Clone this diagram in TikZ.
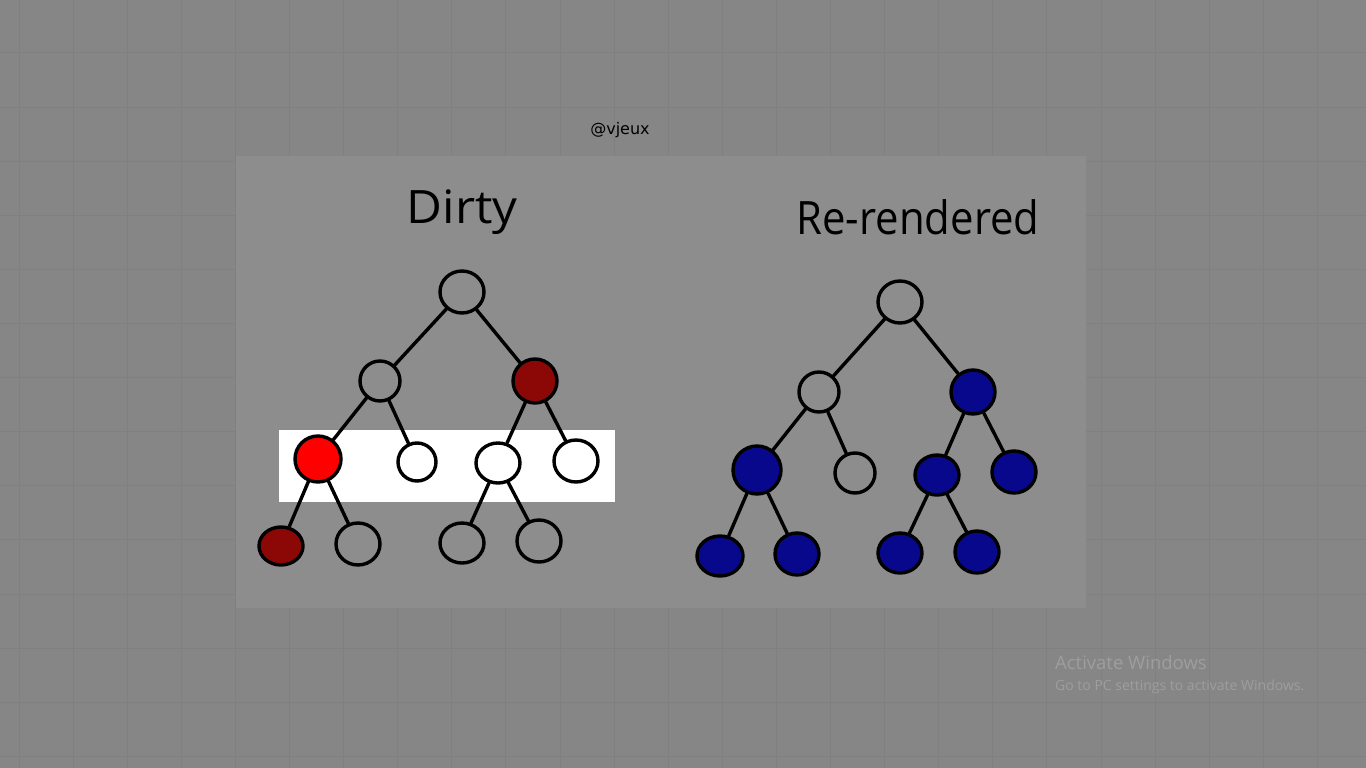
\documentclass[tikz,border=0pt]{standalone}
\usepackage{fontspec}
\setmainfont{Open Sans}
\newfontfamily\dvfont{DejaVu Sans}
\usetikzlibrary{shapes.geometric}
\definecolor{bgc}{RGB}{134,134,134}
\definecolor{gridc}{RGB}{128,128,128}
\definecolor{panelc}{RGB}{141,141,141}
\definecolor{dred}{RGB}{140,8,6}
\definecolor{bred}{RGB}{255,0,0}
\definecolor{navy}{RGB}{8,8,140}
\definecolor{wmc}{RGB}{158,158,158}
\tikzset{
  tn/.style={ellipse,draw=black,line width=3.4pt,inner sep=0pt,minimum width=42pt,minimum height=40pt},
  gn/.style={tn},
  wn/.style={tn,fill=white},
  rn/.style={tn,fill=bred},
  dn/.style={tn,fill=dred},
  bn/.style={tn,fill=navy},
  edge/.style={line width=3.4pt,line cap=round},
  title/.style={font=\fontsize{46}{50}\selectfont,inner sep=0pt,text=black},
  wm/.style={text=wmc,anchor=base west,inner sep=0pt}
}
\begin{document}
\begin{tikzpicture}[x=1pt,y=-1pt]
\useasboundingbox (0,0) rectangle (1366,768);
\fill[bgc] (0,0) rectangle (1366,768);
\foreach \i in {0,...,25}{
  \draw[gridc,line width=1pt] ({19+54.1*\i},0) -- ({19+54.1*\i},768);
}
\foreach \j in {0,...,14}{
  \draw[gridc,line width=1pt] (0,{53+54.1*\j}) -- (1366,{53+54.1*\j});
}
\fill[panelc] (236,156) rectangle (1086,608);
\fill[white] (279,430) rectangle (615,502);

\node[font=\dvfont\fontsize{16}{18}\selectfont,text=black] (handle) at (620,130) {@vjeux};

\node[title] (t1) at (462,212) {\scalebox{1.07}[1]{Dirty}};
\node[title] (t2) at (918,217) {\scalebox{0.91}[1]{Re-rendered}};

% left tree
\node[gn,minimum width=44pt,minimum height=42pt] (a) at (462,292) {};
\node[gn,minimum width=40pt,minimum height=40pt] (aL) at (380,381) {};
\node[dn,minimum width=44pt,minimum height=44pt] (aR) at (535,381) {};
\node[rn,minimum width=46pt,minimum height=46pt] (aLL) at (318,459) {};
\node[wn,minimum width=38pt,minimum height=38pt] (aLR) at (417,462) {};
\node[wn,minimum width=44pt,minimum height=40pt] (aRL) at (498,463) {};
\node[wn,minimum width=44pt,minimum height=42pt] (aRR) at (576,461) {};
\node[dn,minimum width=44pt,minimum height=38pt] (aLLL) at (281,546) {};
\node[gn,minimum width=44pt,minimum height=42pt] (aLLR) at (358,544) {};
\node[gn,minimum width=44pt,minimum height=40pt] (aRLL) at (462,543) {};
\node[gn,minimum width=44pt,minimum height=42pt] (aRLR) at (539,541) {};
\draw[edge] (a) -- (aL);
\draw[edge] (a) -- (aR);
\draw[edge] (aL) -- (aLL);
\draw[edge] (aL) -- (aLR);
\draw[edge] (aR) -- (aRL);
\draw[edge] (aR) -- (aRR);
\draw[edge] (aLL) -- (aLLL);
\draw[edge] (aLL) -- (aLLR);
\draw[edge] (aRL) -- (aRLL);
\draw[edge] (aRL) -- (aRLR);

% right tree
\node[gn,minimum width=44pt,minimum height=42pt] (b) at (900,302) {};
\node[gn,minimum width=40pt,minimum height=40pt] (bL) at (819,392) {};
\node[bn,minimum width=44pt,minimum height=44pt] (bR) at (973,392) {};
\node[bn,minimum width=48pt,minimum height=48pt] (bLL) at (757,470) {};
\node[gn,minimum width=40pt,minimum height=40pt] (bLR) at (855,473) {};
\node[bn,minimum width=44pt,minimum height=40pt] (bRL) at (937,475) {};
\node[bn,minimum width=44pt,minimum height=42pt] (bRR) at (1014,472) {};
\node[bn,minimum width=46pt,minimum height=40pt] (bLLL) at (720,556) {};
\node[bn,minimum width=44pt,minimum height=42pt] (bLLR) at (797,554) {};
\node[bn,minimum width=44pt,minimum height=40pt] (bRLL) at (900,553) {};
\node[bn,minimum width=44pt,minimum height=42pt] (bRLR) at (977,552) {};
\draw[edge] (b) -- (bL);
\draw[edge] (b) -- (bR);
\draw[edge] (bL) -- (bLL);
\draw[edge] (bL) -- (bLR);
\draw[edge] (bR) -- (bRL);
\draw[edge] (bR) -- (bRR);
\draw[edge] (bLL) -- (bLLL);
\draw[edge] (bLL) -- (bLLR);
\draw[edge] (bRL) -- (bRLL);
\draw[edge] (bRL) -- (bRLR);

% watermark
\node[wm,font=\fontsize{18.5}{20}\selectfont] (w1) at (1055,669) {Activate Windows};
\node[wm,font=\fontsize{14}{15}\selectfont] (w2) at (1055,690) {Go to PC settings to activate Windows.};
\end{tikzpicture}
\end{document}
